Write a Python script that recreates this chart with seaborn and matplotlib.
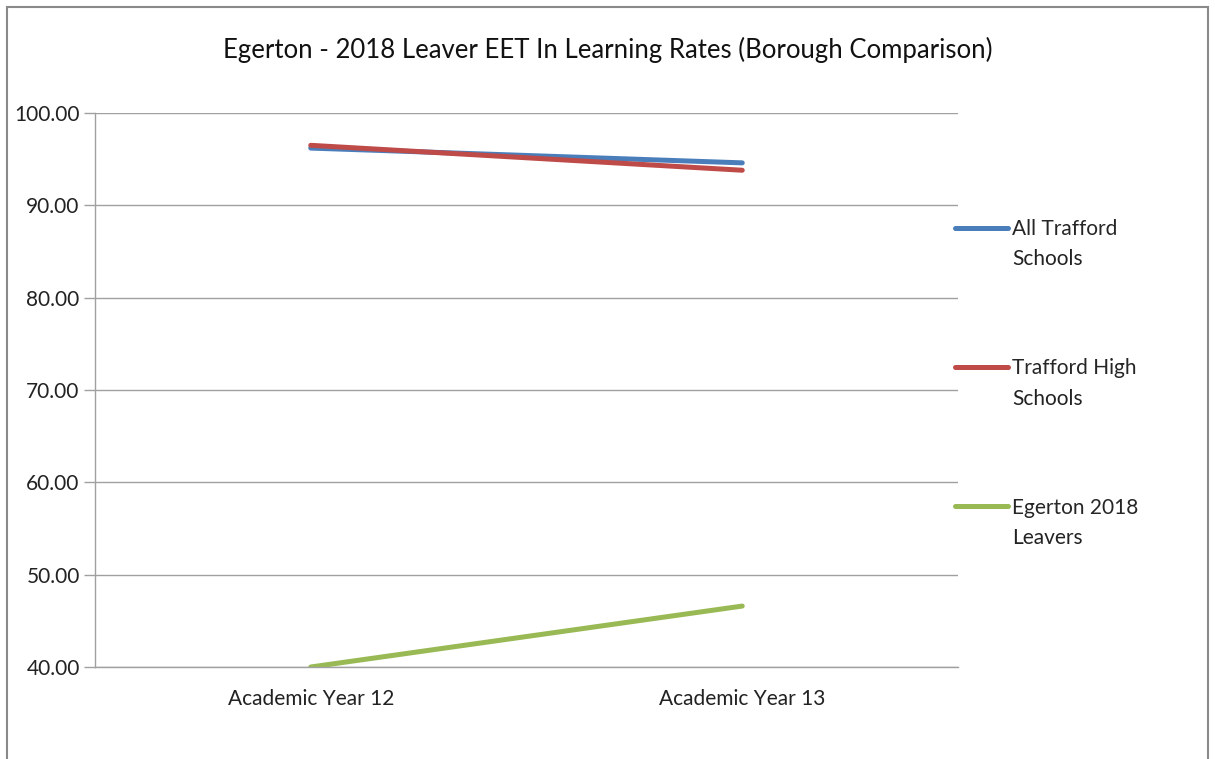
import matplotlib
matplotlib.use("Agg")
import matplotlib.pyplot as plt
import seaborn as sns
import pandas as pd
from matplotlib.patches import Rectangle
from matplotlib.ticker import FixedLocator

# data
years = ["Academic Year 12", "Academic Year 13"]
all_trafford = [96.2, 94.6]
trafford_high = [96.5, 93.8]
egerton_2018 = [40.0, 46.6]
series_names = ["All Trafford\nSchools", "Trafford High\nSchools", "Egerton 2018\nLeavers"]
colors = ["#4a7ebb", "#be4b48", "#98b954"]

df = pd.DataFrame({
    "year": years * 3,
    "rate": all_trafford + trafford_high + egerton_2018,
    "series": [series_names[0]] * 2 + [series_names[1]] * 2 + [series_names[2]] * 2,
})

sns.set_style("white")
plt.rcParams['font.family'] = ['Lato', 'DejaVu Sans']

fig = plt.figure(figsize=(12.15, 7.59), dpi=100)
ax = fig.add_axes([95 / 1215, 1 - 667 / 759, (958 - 95) / 1215, (667 - 113) / 759])

sns.lineplot(data=df, x="year", y="rate", hue="series", palette=colors,
             linewidth=3.6, ax=ax, sort=False, solid_capstyle="round")

ax.set_ylim(40, 100)
ax.set_xlim(-0.5, 1.5)
yt = [40, 50, 60, 70, 80, 90, 100]
ax.set_yticks(yt)
ax.set_yticklabels([f"{v:.2f}" for v in yt])
ax.set_xticks([0, 1])
ax.set_xticklabels(years)
ax.xaxis.set_minor_locator(FixedLocator([-0.5, 0.5, 1.5]))
ax.tick_params(axis="x", which="major", length=0, pad=16, labelsize=15, colors="#222222")
ax.tick_params(axis="x", which="minor", length=8, width=1, color="#a0a0a0", direction="out")
ax.tick_params(axis="y", length=8, width=1, color="#a0a0a0", direction="out", pad=3,
               labelsize=15, labelcolor="#222222", left=True)
ax.grid(axis="y", color="#a0a0a0", linewidth=1)
ax.set_axisbelow(True)
for s in ["top", "right"]:
    ax.spines[s].set_visible(False)
for s in ["left", "bottom"]:
    ax.spines[s].set_color("#a0a0a0")
    ax.spines[s].set_linewidth(1)
ax.set_xlabel("")
ax.set_ylabel("")

# legend: handle sits on the first line of each label, second line below it
ax.get_legend().remove()
handles, labels = ax.get_legend_handles_labels()
first_lines = [l.split("\n")[0] for l in labels]
fig.legend(handles, first_lines, loc="upper left", bbox_to_anchor=(955 / 1215, 1 - 219 / 759),
           frameon=False, fontsize=15, handlelength=2.55, handletextpad=0.2,
           labelspacing=5.73, borderaxespad=0, borderpad=0)
for lab, ypx in zip(labels, [259, 399, 538]):
    fig.text(1012 / 1215, 1 - ypx / 759, lab.split("\n")[1], ha="left", va="center",
             fontsize=15, color="#222222")

fig.text(608 / 1215, 1 - 50 / 759, "Egerton - 2018 Leaver EET In Learning Rates (Borough Comparison)",
         ha="center", va="center", fontsize=18.5, color="#111111")

# outer chart border
fig.patches.append(Rectangle((7 / 1215, -0.05), (1208 - 7) / 1215, 1.05 - 7 / 759,
                             transform=fig.transFigure, fill=False,
                             edgecolor="#8a8a8a", linewidth=1.5))

fig.savefig("out.png", dpi=100)
